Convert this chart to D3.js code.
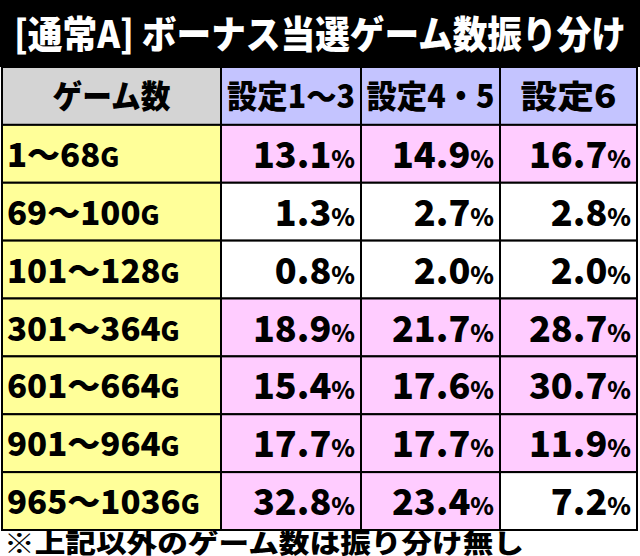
<!DOCTYPE html>
<html><head><meta charset="utf-8">
<script src="https://cdn.jsdelivr.net/npm/d3@7"></script>
<style>body{margin:0;background:#fff}text{font-family:"Noto Sans CJK JP";font-weight:900}</style>
</head><body><svg id="chart" width="640" height="556"></svg>
<script>
const title = '[通常A] ボーナス当選ゲーム数振り分け';
const note = '※上記以外のゲーム数は振り分け無し';
const headers = ['ゲーム数', '設定1～3', '設定4・5', '設定6'];
const ranges = ['1～68G', '69～100G', '101～128G', '301～364G', '601～664G', '901～964G', '965～1036G'];
const set13 = [13.1, 1.3, 0.8, 18.9, 15.4, 17.7, 32.8];
const set45 = [14.9, 2.7, 2.0, 21.7, 17.6, 17.7, 23.4];
const set6 = [16.7, 2.8, 2.0, 28.7, 30.7, 11.9, 7.2];

const svg = d3.select('#chart');
svg.append('rect').attr('width', 640).attr('height', 67).attr('fill', '#000');
svg.append('text').attr('x', 14).attr('y', 48).attr('fill', '#fff')
  .attr('font-size', 38).attr('textLength', 612).attr('lengthAdjust', 'spacingAndGlyphs').text(title);

const cols = d3.scaleOrdinal().domain([0, 1, 2, 3]).range([2, 221, 361, 500]);
const widths = [219, 140, 139, 137];
const y = d3.scaleBand().domain(d3.range(8)).range([67, 530]);

// header
headers.forEach((h, i) => {
  svg.append('rect').attr('x', cols(i)).attr('y', y(0)).attr('width', widths[i]).attr('height', y.bandwidth())
    .attr('fill', i === 0 ? '#d4d4d4' : '#c4c4ff').attr('stroke', '#000').attr('stroke-width', 2);
  svg.append('text').attr('x', cols(i) + widths[i] / 2).attr('y', y(0) + 41).attr('text-anchor', 'middle')
    .attr('font-size', 32).attr('textLength', i === 0 ? 118 : (i === 3 ? 96 : 128)).attr('lengthAdjust', 'spacingAndGlyphs').text(h);
});

const series = [set13, set45, set6];
ranges.forEach((r, j) => {
  const yy = y(j + 1);
  svg.append('rect').attr('x', cols(0)).attr('y', yy).attr('width', widths[0]).attr('height', y.bandwidth())
    .attr('fill', '#ffff99').attr('stroke', '#000').attr('stroke-width', 2);
  const lbl = svg.append('text').attr('x', 7).attr('y', yy + 42).attr('font-size', 33);
  lbl.append('tspan').text(r.slice(0, -1));
  lbl.append('tspan').attr('font-size', 26).text('G');
  series.forEach((s, k) => {
    const v = s[j];
    svg.append('rect').attr('x', cols(k + 1)).attr('y', yy).attr('width', widths[k + 1]).attr('height', y.bandwidth())
      .attr('fill', v >= 10 ? '#ffccff' : '#fff').attr('stroke', '#000').attr('stroke-width', 2);
    const t = svg.append('text').attr('x', cols(k + 1) + widths[k + 1] - 6).attr('y', yy + 43)
      .attr('text-anchor', 'end').attr('font-size', 36);
    t.append('tspan').text(v.toFixed(1));
    t.append('tspan').attr('font-size', 24).text('%');
  });
});

svg.append('text').attr('x', 4).attr('y', 553).attr('font-size', 26)
  .attr('textLength', 520).attr('lengthAdjust', 'spacingAndGlyphs').text(note);
</script></body></html>
